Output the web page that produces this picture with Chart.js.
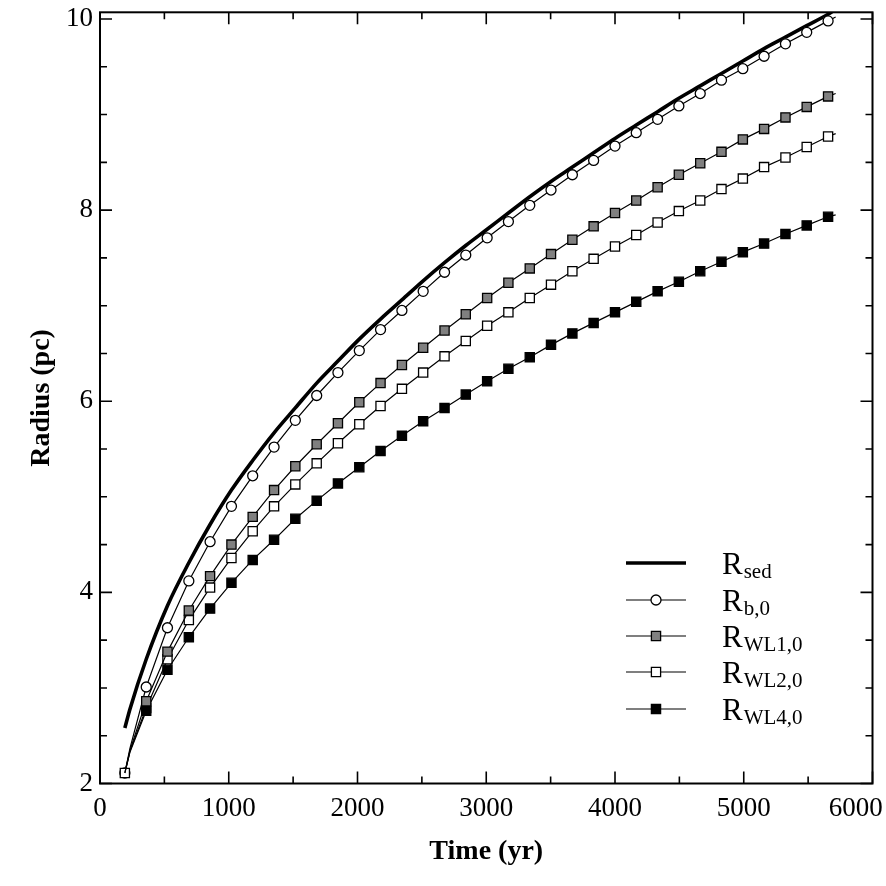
<!DOCTYPE html>
<html>
<head>
<meta charset="utf-8">
<script src="https://cdn.jsdelivr.net/npm/chart.js@4.4.1/dist/chart.umd.min.js"></script>
<style>
  html, body { margin: 0; padding: 0; background: #fff; }
  #wrap { width: 886px; height: 886px; }
</style>
</head>
<body>
<div id="wrap"><canvas id="chart" width="886" height="886"></canvas></div>
<script>
// time (yr) of every sample
const times = [193, 233, 359, 524, 690, 855, 1021, 1186, 1352, 1517, 1683, 1848, 2014, 2179, 2345, 2510,
  2676, 2841, 3007, 3172, 3338, 3503, 3669, 3834, 4000, 4165, 4331, 4496, 4662, 4827, 4993, 5158,
  5324, 5489, 5655, 5714];

// radius (pc)
const rSed = [2.58, 2.78, 3.30, 3.86, 4.31, 4.71, 5.07, 5.38, 5.67, 5.93, 6.19, 6.42, 6.65, 6.86, 7.06, 7.26,
  7.45, 7.63, 7.80, 7.97, 8.14, 8.30, 8.45, 8.60, 8.75, 8.89, 9.03, 9.17, 9.30, 9.43, 9.56, 9.69,
  9.81, 9.93, 10.05, 10.10];
const rB0 = [2.11, 2.37, 3.01, 3.63, 4.12, 4.53, 4.90, 5.22, 5.52, 5.80, 6.06, 6.30, 6.53, 6.75, 6.95, 7.15,
  7.35, 7.53, 7.71, 7.88, 8.05, 8.21, 8.37, 8.52, 8.67, 8.81, 8.95, 9.09, 9.22, 9.36, 9.48, 9.61,
  9.74, 9.86, 9.98, 10.02];
const rWL1 = [2.11, 2.35, 2.86, 3.38, 3.81, 4.17, 4.50, 4.79, 5.07, 5.32, 5.55, 5.77, 5.99, 6.19, 6.38, 6.56,
  6.74, 6.91, 7.08, 7.24, 7.39, 7.54, 7.69, 7.83, 7.97, 8.10, 8.24, 8.37, 8.49, 8.61, 8.74, 8.85,
  8.97, 9.08, 9.19, 9.22];
const rWL2 = [2.11, 2.34, 2.79, 3.30, 3.71, 4.05, 4.36, 4.64, 4.90, 5.13, 5.35, 5.56, 5.76, 5.95, 6.13, 6.30,
  6.47, 6.63, 6.79, 6.93, 7.08, 7.22, 7.36, 7.49, 7.62, 7.74, 7.87, 7.99, 8.10, 8.22, 8.33, 8.45,
  8.55, 8.66, 8.77, 8.80];
const rWL4 = [2.11, 2.33, 2.76, 3.19, 3.53, 3.83, 4.10, 4.34, 4.55, 4.77, 4.96, 5.14, 5.31, 5.48, 5.64, 5.79,
  5.93, 6.07, 6.21, 6.34, 6.46, 6.59, 6.71, 6.82, 6.93, 7.04, 7.15, 7.25, 7.36, 7.46, 7.56, 7.65,
  7.75, 7.84, 7.93, 7.95];

const legendSubs = ['sed', 'b,0', 'WL1,0', 'WL2,0', 'WL4,0'];

const xTickValues = [0, 1000, 2000, 3000, 4000, 5000, 6000];
const yTickValues = [2, 4, 6, 8, 10];
const xMin = 0, xMax = 6000, xMinorStep = 500;
const yMin = 2, yMax = 10.07, yMinorStep = 0.5;

const SERIF = '"Liberation Serif", "Times New Roman", serif';

function pts(arr) {
  return times.map((t, i) => ({ x: t, y: arr[i] }));
}

// indices without a symbol (extra line-only samples)
function radiusSkipping(skip, r) {
  return ctx => skip.includes(ctx.dataIndex) ? 0 : r;
}

const datasets = [
  {
    label: 'Rsed', data: pts(rSed), borderColor: '#000', borderWidth: 3.6,
    pointRadius: 0, cubicInterpolationMode: 'monotone', order: 5
  },
  {
    label: 'Rb,0', data: pts(rB0), borderColor: '#000', borderWidth: 1.2,
    pointStyle: 'circle', pointRadius: radiusSkipping([1, 35], 5),
    pointBackgroundColor: '#fff', pointBorderColor: '#000', pointBorderWidth: 1.3, order: 4,
    legendRadius: 5
  },
  {
    label: 'RWL1,0', data: pts(rWL1), borderColor: '#000', borderWidth: 1.2,
    pointStyle: 'rect', pointRadius: radiusSkipping([0, 1, 35], 6.5),
    pointBackgroundColor: '#808080', pointBorderColor: '#000', pointBorderWidth: 1.3, order: 1,
    legendRadius: 6.5
  },
  {
    label: 'RWL2,0', data: pts(rWL2), borderColor: '#000', borderWidth: 1.2,
    pointStyle: 'rect', pointRadius: radiusSkipping([1, 35], 6.5),
    pointBackgroundColor: '#fff', pointBorderColor: '#000', pointBorderWidth: 1.3, order: 3,
    legendRadius: 6.5
  },
  {
    label: 'RWL4,0', data: pts(rWL4), borderColor: '#000', borderWidth: 1.2,
    pointStyle: 'rect', pointRadius: radiusSkipping([0, 1, 35], 6.5),
    pointBackgroundColor: '#000', pointBorderColor: '#000', pointBorderWidth: 1.3, order: 2,
    legendRadius: 6.5
  }
];
datasets.forEach(d => { d.clip = 0; d.tension = d.tension || 0; d.fill = false; });

// frame on four sides + inward major/minor ticks
const frameTicks = {
  id: 'frameTicks',
  afterDraw(chart) {
    const { ctx, chartArea: a, scales: { x, y } } = chart;
    ctx.save();
    ctx.strokeStyle = '#000';
    ctx.lineWidth = 2;
    ctx.strokeRect(a.left, a.top, a.right - a.left, a.bottom - a.top);
    ctx.lineWidth = 1.6;
    ctx.beginPath();
    for (let v = xMin; v <= xMax; v += xMinorStep) {
      const px = x.getPixelForValue(v);
      const len = xTickValues.includes(v) ? 12 : 7;
      ctx.moveTo(px, a.bottom); ctx.lineTo(px, a.bottom - len);
      ctx.moveTo(px, a.top); ctx.lineTo(px, a.top + len);
    }
    for (let v = yMin; v <= yMax; v += yMinorStep) {
      const py = y.getPixelForValue(v);
      const len = yTickValues.includes(v) ? 12 : 7;
      ctx.moveTo(a.left, py); ctx.lineTo(a.left + len, py);
      ctx.moveTo(a.right, py); ctx.lineTo(a.right - len, py);
    }
    ctx.stroke();
    ctx.restore();
  }
};

// legend with subscripts
const subLegend = {
  id: 'subLegend',
  afterDraw(chart) {
    const ctx = chart.ctx;
    const rows = [563, 600, 636, 672, 709];
    const x0 = 626, x1 = 686, xm = 656, xt = 722;
    ctx.save();
    chart.data.datasets.forEach((d, i) => {
      const yy = rows[i];
      ctx.strokeStyle = d.borderColor;
      ctx.lineWidth = d.borderWidth;
      ctx.beginPath();
      ctx.moveTo(x0, yy); ctx.lineTo(x1, yy);
      ctx.stroke();
      if (d.legendRadius) {
        ctx.fillStyle = d.pointBackgroundColor;
        ctx.strokeStyle = d.pointBorderColor;
        ctx.lineWidth = d.pointBorderWidth;
        Chart.helpers.drawPoint(ctx, {
          pointStyle: d.pointStyle, radius: d.legendRadius, rotation: 0, borderWidth: d.pointBorderWidth
        }, xm, yy);
      }
      ctx.fillStyle = '#000';
      ctx.textAlign = 'left';
      ctx.textBaseline = 'alphabetic';
      ctx.font = '31px ' + SERIF;
      ctx.fillText('R', xt, yy + 11);
      const w = ctx.measureText('R').width;
      ctx.font = '21px ' + SERIF;
      ctx.fillText(legendSubs[i], xt + w + 1, yy + 15);
    });
    ctx.restore();
  }
};

new Chart(document.getElementById('chart'), {
  type: 'line',
  data: { datasets },
  options: {
    responsive: false,
    animation: false,
    devicePixelRatio: 1,
    layout: { padding: { top: 12.3, right: 13.5, bottom: 0, left: 0 } },
    plugins: { legend: { display: false }, tooltip: { enabled: false } },
    scales: {
      x: {
        type: 'linear', min: xMin, max: xMax,
        afterBuildTicks: s => { s.ticks = xTickValues.map(v => ({ value: v })); },
        afterFit: s => { s.height = 102.5; s.paddingLeft = 0; s.paddingRight = 0; },
        grid: { display: false, drawTicks: false },
        border: { display: false },
        ticks: {
          color: '#000', padding: 9, autoSkip: false, maxRotation: 0, minRotation: 0,
          font: { family: SERIF, size: 27 },
          // last label sits left of its tick, as in the figure
          callback: v => v === xMax ? String(v) + '\u00a0'.repeat(5) : String(v)
        },
        title: {
          display: true, text: 'Time (yr)', color: '#000',
          font: { family: SERIF, size: 28, weight: 'bold' },
          padding: { top: 0, bottom: 17 }
        }
      },
      y: {
        type: 'linear', min: yMin, max: yMax,
        afterBuildTicks: s => { s.ticks = yTickValues.map(v => ({ value: v })); },
        afterFit: s => { s.width = 100; s.paddingTop = 0; s.paddingBottom = 0; },
        grid: { display: false, drawTicks: false },
        border: { display: false },
        ticks: {
          color: '#000', padding: 7,
          font: { family: SERIF, size: 27 },
          callback: v => String(v)
        },
        title: {
          display: true, text: 'Radius (pc)', color: '#000',
          font: { family: SERIF, size: 28, weight: 'bold' },
          padding: { top: 25, bottom: 0 }
        }
      }
    }
  },
  plugins: [frameTicks, subLegend]
});
</script>
</body>
</html>
